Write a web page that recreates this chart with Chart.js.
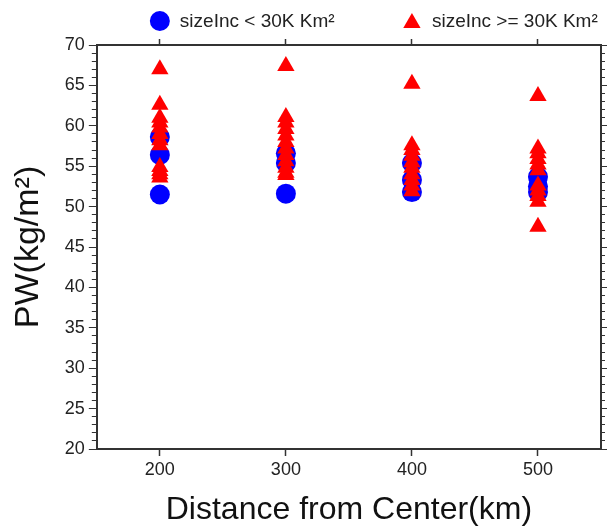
<!DOCTYPE html>
<html>
<head>
<meta charset="utf-8">
<script src="https://cdn.jsdelivr.net/npm/chart.js@4/dist/chart.umd.min.js"></script>
<style>
  body { margin: 0; background: #fff; }
  canvas { display: block; }
</style>
</head>
<body>
<canvas id="pwChart" width="607" height="529"></canvas>
<script>
// Distance bins (km) and precipitable water readings at each bin
const distances = [200, 300, 400, 500];
const smallLabel = 'sizeInc < 30K Km\u00b2';
const largeLabel = 'sizeInc >= 30K Km\u00b2';

// sizeInc < 30K Km2
const smallPW = [
    [51.5, 56.4, 58.6],
    [51.6, 55.4, 56.6],
    [51.8, 53.3, 55.4],
    [51.8, 52.5, 53.7]
];

// sizeInc >= 30K Km2
const largePW = [
    [67.0, 62.6, 61.0, 60.4, 59.8, 59.0, 58.2, 57.6, 54.9, 54.4, 54.0, 53.6],
    [67.4, 61.1, 60.4, 59.6, 58.8, 58.0, 57.2, 56.4, 55.6, 54.8, 54.2, 53.9],
    [65.2, 57.6, 57.0, 56.3, 55.5, 54.8, 54.0, 53.3, 52.6, 51.9],
    [63.7, 57.2, 56.6, 55.9, 55.2, 54.5, 52.6, 52.0, 51.3, 50.6, 47.5]
];

const yMin = 20;
const yMax = 70;

// Flatten the per-distance lists into scatter points
const toPoints = groups => groups.flatMap((vals, i) => vals.map(v => ({ x: distances[i], y: v })));

const frameColor = '#333';
const font = 'Liberation Sans, Arial, Helvetica, sans-serif';

// minor ticks every 1 unit, major (labelled) every 5
const isMajor = ctx => ctx.tick && ctx.tick.value % 5 === 0;

// Legend drawn above the frame, markers lined up with the 200 and 400 ticks
const legendMarks = {
    id: 'legendMarks',
    afterDraw(chart) {
        const { ctx } = chart;
        const xs = chart.scales.x;
        const anchors = [200, 400];
        const cy = 21;
        ctx.save();
        chart.data.datasets.forEach((ds, i) => {
            const cx = xs.getPixelForValue(anchors[i]);
            const r = 10;
            ctx.fillStyle = ds.backgroundColor;
            ctx.beginPath();
            if (ds.pointStyle === 'triangle') {
                ctx.moveTo(cx, cy - r + 2);
                ctx.lineTo(cx + r * 0.866, cy + r / 2 + 2);
                ctx.lineTo(cx - r * 0.866, cy + r / 2 + 2);
                ctx.closePath();
            } else {
                ctx.arc(cx, cy, r, 0, Math.PI * 2);
            }
            ctx.fill();
            ctx.fillStyle = '#222';
            ctx.font = '19px ' + font;
            ctx.textBaseline = 'middle';
            ctx.fillText(ds.label, cx + 20, cy + 1);
        });
        ctx.restore();
    }
};

const xAxis = (position, len, labels) => ({
    type: 'linear',
    position: position,
    min: 150,
    max: 550,
    afterBuildTicks: scale => { scale.ticks = distances.map(v => ({ value: v })); },
    border: { display: true, color: frameColor, width: 2 },
    grid: { drawOnChartArea: false, drawTicks: true, tickLength: len, tickColor: frameColor, tickWidth: 1.5 },
    ticks: { display: labels, color: '#222', font: { family: font, size: 18 }, padding: 3, maxRotation: 0 },
    title: {
        display: labels,
        text: 'Distance from Center(km)',
        color: '#111',
        font: { family: font, size: 32 },
        padding: { top: 7, bottom: 0 }
    }
});

const yAxis = (position, len, labels, minorDash) => ({
    type: 'linear',
    position: position,
    min: yMin,
    max: yMax,
    ticks: {
        display: labels,
        stepSize: 1,
        autoSkip: false,
        color: '#222',
        font: { family: font, size: 18 },
        padding: 4,
        callback: v => (v % 5 === 0 ? v : '')
    },
    border: { display: true, color: frameColor, width: 2 },
    grid: {
        drawOnChartArea: false,
        drawTicks: true,
        tickLength: len,
        tickColor: frameColor,
        tickWidth: 1,
        tickBorderDash: ctx => (isMajor(ctx) ? [] : minorDash)
    },
    title: {
        display: labels,
        text: 'PW(kg/m\u00b2)',
        color: '#111',
        font: { family: font, size: 34 },
        padding: { top: 4, bottom: 12 }
    }
});

new Chart(document.getElementById('pwChart').getContext('2d'), {
    type: 'scatter',
    data: {
        datasets: [
            {
                label: smallLabel,
                data: toPoints(smallPW),
                pointStyle: 'circle',
                pointRadius: 10,
                backgroundColor: '#0000ff',
                borderWidth: 0,
                order: 1
            },
            {
                label: largeLabel,
                data: toPoints(largePW),
                pointStyle: 'triangle',
                pointRadius: 10,
                backgroundColor: '#ff0000',
                borderWidth: 0,
                order: 0
            }
        ]
    },
    options: {
        responsive: false,
        animation: false,
        layout: { autoPadding: false, padding: { top: 39, right: 0, left: 4, bottom: 0 } },
        scales: {
            x: xAxis('bottom', 7, true),
            x2: xAxis('top', 6, false),
            y: yAxis('left', 8, true, [0, 3, 5, 100]),
            y2: yAxis('right', 6, false, [3, 100])
        },
        plugins: {
            legend: { display: false },
            tooltip: { enabled: false }
        }
    },
    plugins: [legendMarks]
});
</script>
</body>
</html>
